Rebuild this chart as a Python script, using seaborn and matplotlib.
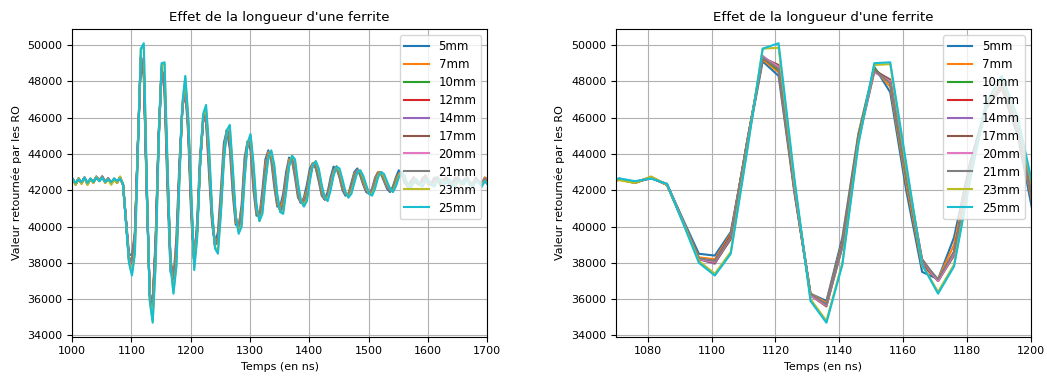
import numpy as np
import pandas as pd
import matplotlib
matplotlib.use("Agg")
import matplotlib.pyplot as plt
import seaborn as sns

# grille de temps (ns), un point toutes les 5 ns
temps = np.arange(996, 1707, 5)

ferrites = ['5mm', '7mm', '10mm', '12mm', '14mm', '17mm', '20mm', '21mm', '23mm', '25mm']

v_5mm = [
    42550, 42650, 42300, 42600, 42450, 42650, 42400, 42550, 42500, 42700, 42500, 42700,
    42500, 42600, 42350, 42650, 42450, 42650, 42350, 40400, 38500, 38400, 39700, 44400,
    49100, 48300, 41800, 36300, 35900, 39400, 45100, 48800, 47400, 42000, 37500, 37100,
    39400, 43500, 46600, 47600, 45000, 40500, 38200, 40300, 44000, 45900, 45800, 42900,
    40200, 39000, 39700, 42000, 44600, 45300, 44300, 41800, 40100, 40000, 41200, 43800,
    44700, 44200, 42000, 40600, 40600, 42000, 43700, 44200, 43600, 42200, 41100, 41100,
    41800, 43000, 43800, 43600, 42700, 41600, 41300, 41600, 42300, 43200, 43500, 43200,
    42500, 41700, 41500, 41900, 42700, 43300, 43200, 42700, 42000, 41700, 41800, 42400,
    43000, 43200, 42800, 42300, 41900, 41800, 42100, 42700, 43000, 42900, 42500, 42100,
    41900, 42200, 42700, 43100, 42900, 42400, 42200, 42500, 42700, 42400, 42300, 42700,
    42700, 42300, 42400, 42700, 42600, 42300, 42600, 42700, 42300, 42400, 42700, 42600,
    42300, 42600, 42600, 42300, 42400, 42700, 42400, 42400, 42700, 42600, 42700,
]
v_7mm = [
    42500, 42600, 42400, 42600, 42350, 42700, 42300, 42650, 42400, 42700, 42550, 42700,
    42400, 42650, 42350, 42600, 42400, 42750, 42300, 40300, 38300, 38200, 39600, 44500,
    49200, 48500, 41900, 36300, 35800, 39200, 45000, 48700, 47700, 42400, 37800, 37100,
    39000, 43200, 46500, 47700, 45300, 40900, 38100, 40000, 43800, 45800, 46000, 43300,
    40400, 39000, 39400, 41600, 44300, 45300, 44700, 42200, 40200, 40100, 40900, 43500,
    44700, 44500, 42400, 40700, 40600, 41600, 43400, 44100, 43800, 42500, 41200, 41000,
    41500, 42700, 43700, 43700, 42900, 41700, 41300, 41500, 42000, 43000, 43500, 43300,
    42700, 41800, 41500, 41700, 42500, 43100, 43300, 42800, 42100, 41800, 41800, 42200,
    42900, 43100, 42900, 42400, 42000, 41800, 42000, 42600, 43000, 43000, 42600, 42200,
    42000, 42100, 42600, 42900, 42900, 42500, 42200, 42400, 42700, 42400, 42300, 42600,
    42800, 42300, 42400, 42600, 42700, 42300, 42600, 42700, 42400, 42300, 42600, 42700,
    42300, 42500, 42700, 42300, 42400, 42600, 42500, 42300, 42700, 42500, 42600,
]
v_10mm = [
    42500, 42600, 42350, 42650, 42400, 42650, 42350, 42600, 42450, 42700, 42550, 42750,
    42450, 42650, 42400, 42600, 42450, 42700, 42300, 40300, 38200, 38100, 39500, 44600,
    49300, 48600, 42000, 36200, 35700, 39100, 44900, 48700, 47900, 42700, 38000, 37000,
    38600, 43100, 46500, 47800, 45400, 41100, 38000, 39900, 43600, 45800, 46100, 43500,
    40500, 39000, 39300, 41300, 44100, 45300, 44900, 42500, 40300, 40000, 40700, 43300,
    44600, 44600, 42700, 40800, 40500, 41300, 43100, 43900, 43900, 42800, 41300, 40900,
    41200, 42500, 43500, 43800, 43100, 41800, 41300, 41400, 41800, 42900, 43400, 43400,
    42800, 41900, 41500, 41600, 42400, 43000, 43300, 42900, 42200, 41800, 41700, 42100,
    42800, 43100, 42900, 42500, 42100, 41800, 41900, 42500, 42900, 43000, 42700, 42300,
    42000, 42100, 42500, 42800, 42900, 42500, 42200, 42400, 42700, 42400, 42300, 42600,
    42800, 42400, 42300, 42600, 42700, 42300, 42500, 42700, 42400, 42300, 42600, 42700,
    42400, 42500, 42700, 42400, 42300, 42600, 42500, 42300, 42600, 42500, 42600,
]
v_12mm = [
    42500, 42600, 42350, 42600, 42400, 42700, 42350, 42600, 42450, 42700, 42550, 42750,
    42450, 42600, 42400, 42600, 42450, 42700, 42300, 40300, 38200, 38100, 39500, 44500,
    49300, 48700, 42000, 36200, 35700, 39000, 44800, 48600, 48000, 42800, 38000, 37000,
    38600, 43000, 46500, 47800, 45500, 41200, 38000, 39800, 43500, 45800, 46200, 43600,
    40600, 39000, 39200, 41200, 44000, 45300, 45000, 42600, 40400, 40000, 40600, 43200,
    44600, 44700, 42800, 40900, 40500, 41200, 43000, 43900, 44000, 42900, 41400, 40900,
    41100, 42400, 43500, 43800, 43200, 41900, 41300, 41400, 41700, 42800, 43400, 43500,
    42900, 42000, 41500, 41600, 42300, 43000, 43300, 43000, 42300, 41800, 41700, 42000,
    42700, 43100, 43000, 42600, 42100, 41800, 41900, 42400, 42900, 43000, 42800, 42300,
    42000, 42000, 42400, 42800, 42900, 42600, 42200, 42300, 42700, 42500, 42300, 42600,
    42800, 42400, 42300, 42600, 42700, 42400, 42500, 42700, 42400, 42300, 42600, 42700,
    42400, 42500, 42700, 42400, 42300, 42600, 42500, 42300, 42600, 42500, 42600,
]
v_14mm = [
    42500, 42600, 42350, 42650, 42400, 42700, 42350, 42600, 42450, 42750, 42550, 42750,
    42450, 42650, 42400, 42600, 42450, 42700, 42300, 40300, 38200, 37950, 39400, 44500,
    49400, 48700, 42000, 36200, 35700, 39000, 44800, 48600, 48000, 42800, 38100, 37000,
    38500, 43000, 46500, 47800, 45500, 41200, 38000, 39800, 43500, 45800, 46200, 43600,
    40600, 39000, 39200, 41200, 44000, 45300, 45000, 42600, 40400, 40000, 40600, 43200,
    44600, 44700, 42800, 40900, 40500, 41200, 43000, 43900, 44000, 42900, 41400, 40900,
    41100, 42400, 43500, 43800, 43200, 41900, 41300, 41400, 41700, 42800, 43400, 43500,
    42900, 42000, 41500, 41600, 42300, 43000, 43300, 43000, 42300, 41800, 41700, 42000,
    42700, 43100, 43000, 42600, 42100, 41800, 41900, 42400, 42900, 43000, 42800, 42300,
    42000, 42000, 42400, 42800, 42900, 42600, 42200, 42300, 42700, 42500, 42300, 42600,
    42800, 42400, 42300, 42600, 42700, 42400, 42500, 42700, 42400, 42300, 42600, 42700,
    42400, 42500, 42700, 42400, 42300, 42600, 42500, 42300, 42600, 42500, 42600,
]
v_17mm = [
    42500, 42600, 42350, 42650, 42400, 42700, 42350, 42600, 42450, 42750, 42550, 42750,
    42450, 42650, 42400, 42600, 42400, 42700, 42300, 40300, 38200, 38000, 39300, 44500,
    49300, 48900, 42200, 36200, 35600, 38900, 44800, 48600, 48100, 43000, 38200, 37000,
    38400, 42900, 46500, 47900, 45600, 41300, 38000, 39700, 43500, 45900, 46300, 43700,
    40700, 39000, 39100, 41100, 43900, 45300, 45100, 42700, 40500, 40000, 40500, 43100,
    44600, 44800, 42900, 41000, 40500, 41100, 42900, 43900, 44100, 43000, 41500, 40900,
    41000, 42300, 43400, 43800, 43300, 42000, 41300, 41300, 41600, 42700, 43400, 43500,
    43000, 42100, 41500, 41500, 42200, 42900, 43300, 43100, 42400, 41800, 41700, 41900,
    42600, 43100, 43000, 42700, 42200, 41800, 41800, 42300, 42900, 43000, 42800, 42400,
    42000, 42000, 42300, 42800, 42900, 42600, 42300, 42300, 42600, 42500, 42300, 42500,
    42700, 42400, 42300, 42500, 42700, 42400, 42400, 42700, 42400, 42300, 42500, 42700,
    42400, 42400, 42700, 42400, 42300, 42500, 42500, 42300, 42500, 42500, 42500,
]
v_20mm = [
    42500, 42600, 42350, 42650, 42400, 42700, 42350, 42600, 42450, 42750, 42550, 42750,
    42450, 42650, 42400, 42600, 42450, 42700, 42300, 40300, 38200, 38050, 39400, 44500,
    49350, 48800, 42100, 36200, 35650, 38900, 44700, 48500, 48000, 42900, 38100, 37000,
    38500, 43000, 46500, 47800, 45500, 41200, 38000, 39800, 43500, 45800, 46200, 43600,
    40600, 39000, 39200, 41200, 44000, 45300, 45000, 42600, 40400, 40000, 40600, 43200,
    44600, 44700, 42800, 40900, 40500, 41200, 43000, 43900, 44000, 42900, 41400, 40900,
    41100, 42400, 43500, 43800, 43200, 41900, 41300, 41400, 41700, 42800, 43400, 43500,
    42900, 42000, 41500, 41600, 42300, 43000, 43300, 43000, 42300, 41800, 41700, 42000,
    42700, 43100, 43000, 42600, 42100, 41800, 41900, 42400, 42900, 43000, 42800, 42300,
    42000, 42000, 42400, 42800, 42900, 42600, 42200, 42300, 42700, 42500, 42300, 42600,
    42800, 42400, 42300, 42600, 42700, 42400, 42500, 42700, 42400, 42300, 42600, 42700,
    42400, 42500, 42700, 42400, 42300, 42600, 42500, 42300, 42600, 42500, 42600,
]
v_21mm = [
    42500, 42600, 42350, 42650, 42400, 42700, 42350, 42600, 42450, 42750, 42550, 42750,
    42450, 42650, 42400, 42600, 42450, 42700, 42300, 40300, 38250, 38100, 39400, 44500,
    49300, 48700, 42100, 36300, 35700, 38900, 44800, 48600, 47900, 42800, 38100, 37100,
    38600, 43000, 46500, 47800, 45500, 41200, 38000, 39800, 43500, 45800, 46200, 43600,
    40600, 39000, 39200, 41200, 44000, 45300, 45000, 42600, 40400, 40000, 40600, 43200,
    44600, 44700, 42800, 40900, 40500, 41200, 43000, 43900, 44000, 42900, 41400, 40900,
    41100, 42400, 43500, 43800, 43200, 41900, 41300, 41400, 41700, 42800, 43400, 43500,
    42900, 42000, 41500, 41600, 42300, 43000, 43300, 43000, 42300, 41800, 41700, 42000,
    42700, 43100, 43000, 42600, 42100, 41800, 41900, 42400, 42900, 43000, 42800, 42300,
    42000, 42000, 42400, 42800, 42900, 42600, 42200, 42300, 42700, 42500, 42300, 42600,
    42800, 42400, 42300, 42600, 42700, 42400, 42500, 42700, 42400, 42300, 42600, 42700,
    42400, 42500, 42700, 42400, 42300, 42600, 42500, 42300, 42600, 42500, 42600,
]
v_23mm = [
    42500, 42600, 42300, 42650, 42350, 42700, 42300, 42600, 42400, 42750, 42500, 42700,
    42400, 42600, 42300, 42550, 42400, 42750, 42300, 40250, 38100, 37400, 38600, 44100,
    49800, 49850, 42400, 36000, 34800, 38000, 44600, 48900, 48950, 43300, 37900, 36400,
    37900, 42600, 46700, 48200, 45900, 41800, 37700, 39500, 43500, 46100, 46500, 44200,
    40900, 38900, 38600, 40800, 43700, 45300, 45500, 43100, 40600, 39700, 40100, 42700,
    44600, 45000, 43300, 41100, 40300, 40800, 42500, 43800, 44100, 43300, 41700, 40800,
    40800, 42000, 43400, 43900, 43600, 42300, 41400, 41200, 41500, 42600, 43400, 43600,
    43100, 42200, 41600, 41500, 42100, 42900, 43300, 43100, 42500, 41900, 41600, 41900,
    42500, 43000, 43100, 42700, 42200, 41800, 41800, 42200, 42800, 43000, 42800, 42400,
    42100, 41900, 42300, 42800, 43000, 42700, 42300, 42200, 42400, 42600, 42300, 42300,
    42500, 42600, 42300, 42300, 42500, 42600, 42400, 42400, 42600, 42300, 42300, 42500,
    42400, 42400, 42600, 42300, 42300, 42500, 42400, 42300, 42500, 42400, 42400,
]
v_25mm = [
    42550, 42650, 42400, 42600, 42450, 42700, 42400, 42650, 42450, 42700, 42500, 42700,
    42450, 42600, 42450, 42650, 42500, 42650, 42350, 40200, 38000, 37300, 38500, 44000,
    49800, 50100, 42600, 35900, 34700, 37900, 44500, 49000, 49050, 43500, 37900, 36300,
    37800, 42500, 46800, 48300, 46000, 42000, 37600, 39400, 43400, 46200, 46700, 44400,
    41000, 38800, 38500, 40700, 43600, 45300, 45600, 43300, 40600, 39600, 40000, 42600,
    44600, 45100, 43500, 41200, 40300, 40700, 42400, 43800, 44200, 43400, 41800, 40800,
    40700, 41900, 43300, 43900, 43700, 42400, 41400, 41100, 41400, 42500, 43400, 43600,
    43200, 42300, 41600, 41400, 42000, 42800, 43300, 43200, 42600, 41900, 41600, 41800,
    42400, 43000, 43100, 42800, 42300, 41800, 41700, 42100, 42700, 43000, 42900, 42500,
    42100, 41900, 42200, 42700, 43000, 42800, 42300, 42100, 42400, 42600, 42300, 42200,
    42500, 42600, 42300, 42200, 42500, 42600, 42300, 42400, 42600, 42300, 42200, 42500,
    42500, 42300, 42600, 42300, 42200, 42500, 42400, 42200, 42500, 42300, 42300,
]

valeurs = [v_5mm, v_7mm, v_10mm, v_12mm, v_14mm, v_17mm, v_20mm, v_21mm, v_23mm, v_25mm]

frames = []
for nom, v in zip(ferrites, valeurs):
    frames.append(pd.DataFrame({'temps': temps, 'valeur': v, 'ferrite': nom}))
df = pd.concat(frames, ignore_index=True)

plt.rcParams['font.size'] = 8

fig = plt.figure(figsize=(10.47, 3.76), dpi=100)
ax1 = fig.add_axes([0.0688, 0.1045, 0.3965, 0.8177])
ax2 = fig.add_axes([0.5883, 0.1045, 0.396, 0.8177])

for ax, xlim in [(ax1, (1000, 1700)), (ax2, (1070, 1200))]:
    sns.lineplot(data=df, x='temps', y='valeur', hue='ferrite', hue_order=ferrites,
                 palette='tab10', estimator=None, linewidth=1.5, ax=ax)
    ax.set_xlim(*xlim)
    ax.grid(True)
    ax.set_title("Effet de la longueur d'une ferrite")
    ax.set_xlabel('Temps (en ns)')
    ax.set_ylabel('Valeur retournée par les RO')
    sns.move_legend(ax, 'upper right', title=None, fontsize=8.5,
                    labelspacing=0.42, handlelength=2.1)

fig.savefig('out.png', dpi=100)
